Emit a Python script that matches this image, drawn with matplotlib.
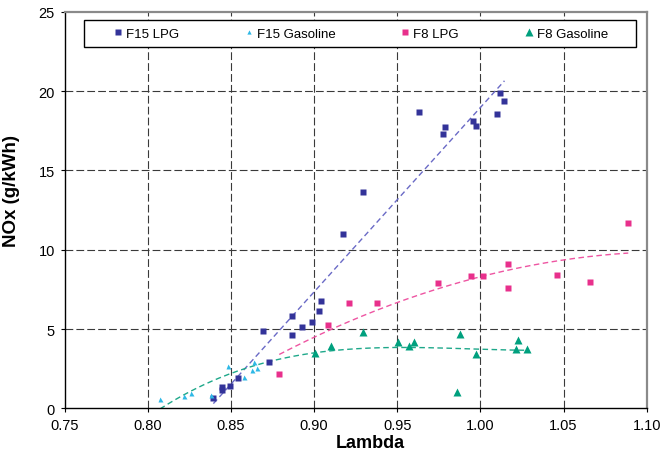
import numpy as np
import matplotlib
matplotlib.use("Agg")
import matplotlib.pyplot as plt
from matplotlib.patches import Rectangle

plt.rcParams['font.family'] = ['Liberation Sans', 'DejaVu Sans']

# Measured NOx emissions versus lambda
lambda_f15_lpg = [0.8395, 0.8445, 0.8445, 0.8495, 0.8541, 0.8728, 0.8693, 0.8867,
                  0.8867, 0.8926, 0.8990, 0.9030, 0.9042, 0.9173, 0.9295, 0.9633,
                  0.9777, 0.9787, 0.9956, 0.9976, 1.0101, 1.0119, 1.0145]
nox_f15_lpg = [0.63, 1.36, 1.17, 1.43, 1.89, 2.90, 4.89, 4.60,
               5.80, 5.13, 5.46, 6.13, 6.75, 10.99, 13.64, 18.66,
               17.28, 17.74, 18.10, 17.80, 18.54, 19.86, 19.39]

lambda_f15_gas = [0.8074, 0.8220, 0.8262, 0.8379, 0.8485, 0.8581, 0.8629, 0.8656, 0.8641]
nox_f15_gas = [0.59, 0.76, 0.96, 0.86, 2.65, 1.95, 2.43, 2.52, 2.90]

lambda_f8_lpg = [0.8791, 0.9083, 0.9208, 0.9380, 0.9745, 0.9944, 1.0014, 1.0165,
                 1.0165, 1.0459, 1.0661, 1.0889]
nox_f8_lpg = [2.16, 5.23, 6.62, 6.62, 7.88, 8.36, 8.36, 9.12,
              7.57, 8.42, 7.98, 11.68]

lambda_f8_gas = [0.9004, 0.9101, 0.9295, 0.9502, 0.9572, 0.9602, 0.9879, 0.9860,
                 0.9972, 1.0215, 1.0229, 1.0283]
nox_f8_gas = [3.47, 3.95, 4.79, 4.16, 3.91, 4.16, 4.70, 1.01,
              3.44, 3.74, 4.29, 3.74]

x_ticks = [0.75, 0.80, 0.85, 0.90, 0.95, 1.00, 1.05, 1.10]
y_ticks = [0, 5, 10, 15, 20, 25]

W, H = 663, 456
fig = plt.figure(figsize=(W / 100, H / 100), dpi=100)
ax = fig.add_axes([64.5 / W, 1 - 409.3 / H, (646.7 - 64.5) / W, (409.3 - 12.8) / H])

ax.set_xlim(0.75, 1.10)
ax.set_ylim(0, 25)
ax.set_xticks(x_ticks)
ax.set_xticklabels([f"{v:.2f}" for v in x_ticks])
ax.set_yticks(y_ticks)
ax.set_yticklabels([str(v) for v in y_ticks])
ax.tick_params(axis='both', direction='out', length=3, width=0.8, labelsize=10.5,
               colors='black', pad=4)

# dashed grid (interior lines only)
grid_style = dict(color='#3a3a3a', lw=0.8, ls=(0, (7, 2.8)), zorder=1)
for xv in x_ticks[1:-1]:
    ax.axvline(xv, **grid_style)
for yv in y_ticks[1:-1]:
    ax.axhline(yv, **grid_style)

for side in ('left', 'bottom'):
    ax.spines[side].set_color('black')
    ax.spines[side].set_linewidth(1.0)
for side in ('top', 'right'):
    ax.spines[side].set_color('#8a8a8a')
    ax.spines[side].set_linewidth(1.6)

c_f15_lpg = '#333399'
c_f15_gas = '#2EB8E6'
c_f8_lpg = '#E8308C'
c_f8_gas = '#00A07E'


def trend(xs, ys, deg, color):
    coef = np.polyfit(xs, ys, deg)
    xx = np.linspace(min(xs), max(xs), 200)
    ax.plot(xx, np.polyval(coef, xx), color=color, lw=1.0, ls=(0, (4, 2.5)), zorder=2)


trend(lambda_f15_lpg, nox_f15_lpg, 1, '#6A6AC6')
trend(lambda_f8_lpg, nox_f8_lpg, 2, '#EE55A2')
trend(lambda_f15_gas + lambda_f8_gas, nox_f15_gas + nox_f8_gas, 3, '#1EA88A')

ax.plot(lambda_f15_lpg, nox_f15_lpg, 's', color=c_f15_lpg, ms=4.3, mec='none',
        label='F15 LPG', zorder=4)
ax.plot(lambda_f15_gas, nox_f15_gas, '^', color=c_f15_gas, ms=3.6, mec='none',
        label='F15 Gasoline', zorder=4)
ax.plot(lambda_f8_lpg, nox_f8_lpg, 's', color=c_f8_lpg, ms=4.3, mec='none',
        label='F8 LPG', zorder=4)
ax.plot(lambda_f8_gas, nox_f8_gas, '^', color=c_f8_gas, ms=6.0, mec='none',
        label='F8 Gasoline', zorder=4)

ax.set_xlabel('Lambda', fontsize=13, fontweight='bold', va='baseline')
ax.xaxis.set_label_coords((370 - 64.5) / 582.2, (409.3 - 448) / 396.5)
ax.set_ylabel('NOx (g/kWh)', fontsize=13.5, fontweight='bold')
ax.yaxis.set_label_coords((20 - 64.5) / 582.2, 0.55)

# legend box
fig.add_artist(Rectangle((84 / W, 1 - 48 / H), 552 / W, 27 / H, transform=fig.transFigure,
                         facecolor='white', edgecolor='black', lw=1.0, zorder=3))
handles, labels = ax.get_legend_handles_labels()
leg = fig.legend(handles, labels, loc='center', bbox_to_anchor=(361 / W, 1 - 34.5 / H),
                 ncol=4, frameon=False, fontsize=9.5, handlelength=0.6,
                 handletextpad=0.3, columnspacing=5.0, markerscale=0.85)
leg.set_zorder(6)

fig.savefig('out.png', dpi=100)
